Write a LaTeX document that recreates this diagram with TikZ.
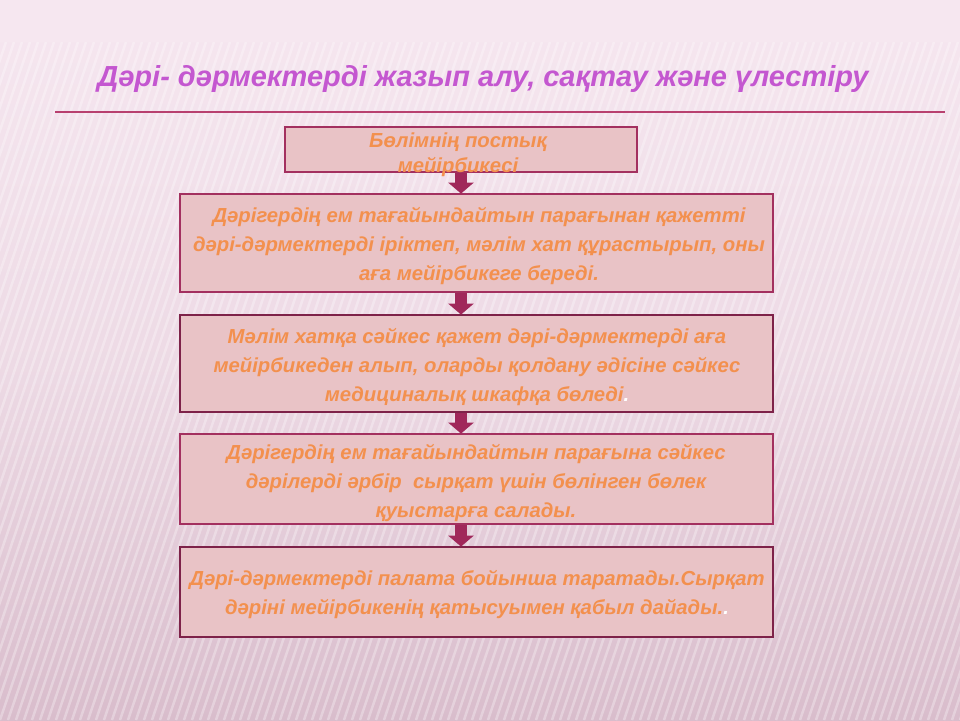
\documentclass[tikz,border=0pt]{standalone}
\usepackage{fontspec}
\setmainfont{Liberation Sans}
\usetikzlibrary{arrows.meta,calc}
\definecolor{bgtop}{HTML}{F6E7F0}
\definecolor{bgbot}{HTML}{D9BDCC}
\definecolor{boxfill}{HTML}{E9C3C6}
\definecolor{boxline}{HTML}{A3305F}
\definecolor{boxdark}{HTML}{7E2249}
\definecolor{txtorange}{HTML}{F3904E}
\definecolor{titlecol}{HTML}{C457D0}
\definecolor{rulecol}{HTML}{B8406F}
\definecolor{arrowcol}{HTML}{A0285A}
\tikzset{
  stepbox/.style={draw=boxline, line width=2.8pt, fill=boxfill, rectangle, inner sep=0pt},
  darkbox/.style={stepbox, draw=boxdark},
  steptext/.style={text=txtorange, font=\fontsize{20.3}{29}\selectfont\bfseries\itshape, align=center, inner sep=0pt},
  blockarrow/.style={draw=arrowcol, fill=arrowcol, line width=12pt, -{Triangle[width=25pt,length=11pt]}, shorten >=-1pt}
}
\begin{document}
\begin{tikzpicture}[x=1pt,y=-1pt]
\useasboundingbox (0,0) rectangle (960,720);
% background
\shade[top color=bgtop, bottom color=bgbot, middle color=bgtop!70!bgbot] (0,0) rectangle (960,720);
\fill[bgtop] (0,0) rectangle (960,42);
\begin{scope}
\clip (0,42) rectangle (960,720);
\foreach \i in {-40,...,140} {
  \draw[white, opacity=0.3, line width=2.5pt] (\i*8,720) -- (\i*8+230,42);
}
\end{scope}
% title
\node[text=titlecol, font=\fontsize{29}{33}\selectfont\bfseries\itshape, inner sep=0pt] (title) at (483,79) {Дәрі- дәрмектерді жазып алу, сақтау және үлестіру};
\coordinate (ruleL) at (55,112);
\coordinate (ruleR) at (945,112);
\draw[rulecol, line width=2pt] (ruleL) -- (ruleR);
% boxes
\node[stepbox, minimum width=352pt, minimum height=45pt] (b1) at (461,149.5) {};
\node[stepbox, minimum width=593pt, minimum height=98pt] (b2) at (476.5,243) {};
\node[darkbox, minimum width=593pt, minimum height=97pt] (b3) at (476.5,363.5) {};
\node[stepbox, minimum width=593pt, minimum height=90pt] (b4) at (476.5,479) {};
\node[darkbox, minimum width=593pt, minimum height=90pt] (b5) at (476.5,592) {};
% arrows
\draw[blockarrow] (b1.south) -- (b2.north -| b1.south);
\draw[blockarrow] (b2.south -| b1.south) -- (b3.north -| b1.south);
\draw[blockarrow] (b3.south -| b1.south) -- (b4.north -| b1.south);
\draw[blockarrow] (b4.south -| b1.south) -- (b5.north -| b1.south);
% texts
\node[steptext, font=\fontsize{20.3}{25}\selectfont\bfseries\itshape] (t1) at (458,155) {Бөлімнің постық\\мейірбикесі};
\node[steptext] (t2) at (479,246) {Дәрігердің ем тағайындайтын парағынан қажетті\\дәрі-дәрмектерді іріктеп, мәлім хат құрастырып, оны\\аға мейірбикеге береді.};
\node[steptext] (t3) at (477,367) {Мәлім хатқа сәйкес қажет дәрі-дәрмектерді аға\\мейірбикеден алып, оларды қолдану әдісіне сәйкес\\медициналық шкафқа бөледі\textcolor{white}{.}};
\node[steptext] (t4) at (476,483) {Дәрігердің ем тағайындайтын парағына сәйкес\\дәрілерді әрбір\ \ сырқат үшін бөлінген бөлек\\қуыстарға салады.};
\node[steptext] (t5) at (477,594.5) {Дәрі-дәрмектерді палата бойынша таратады.Сырқат\\дәріні мейірбикенің қатысуымен қабыл дайады.\textcolor{white}{.}};
\end{tikzpicture}
\end{document}
